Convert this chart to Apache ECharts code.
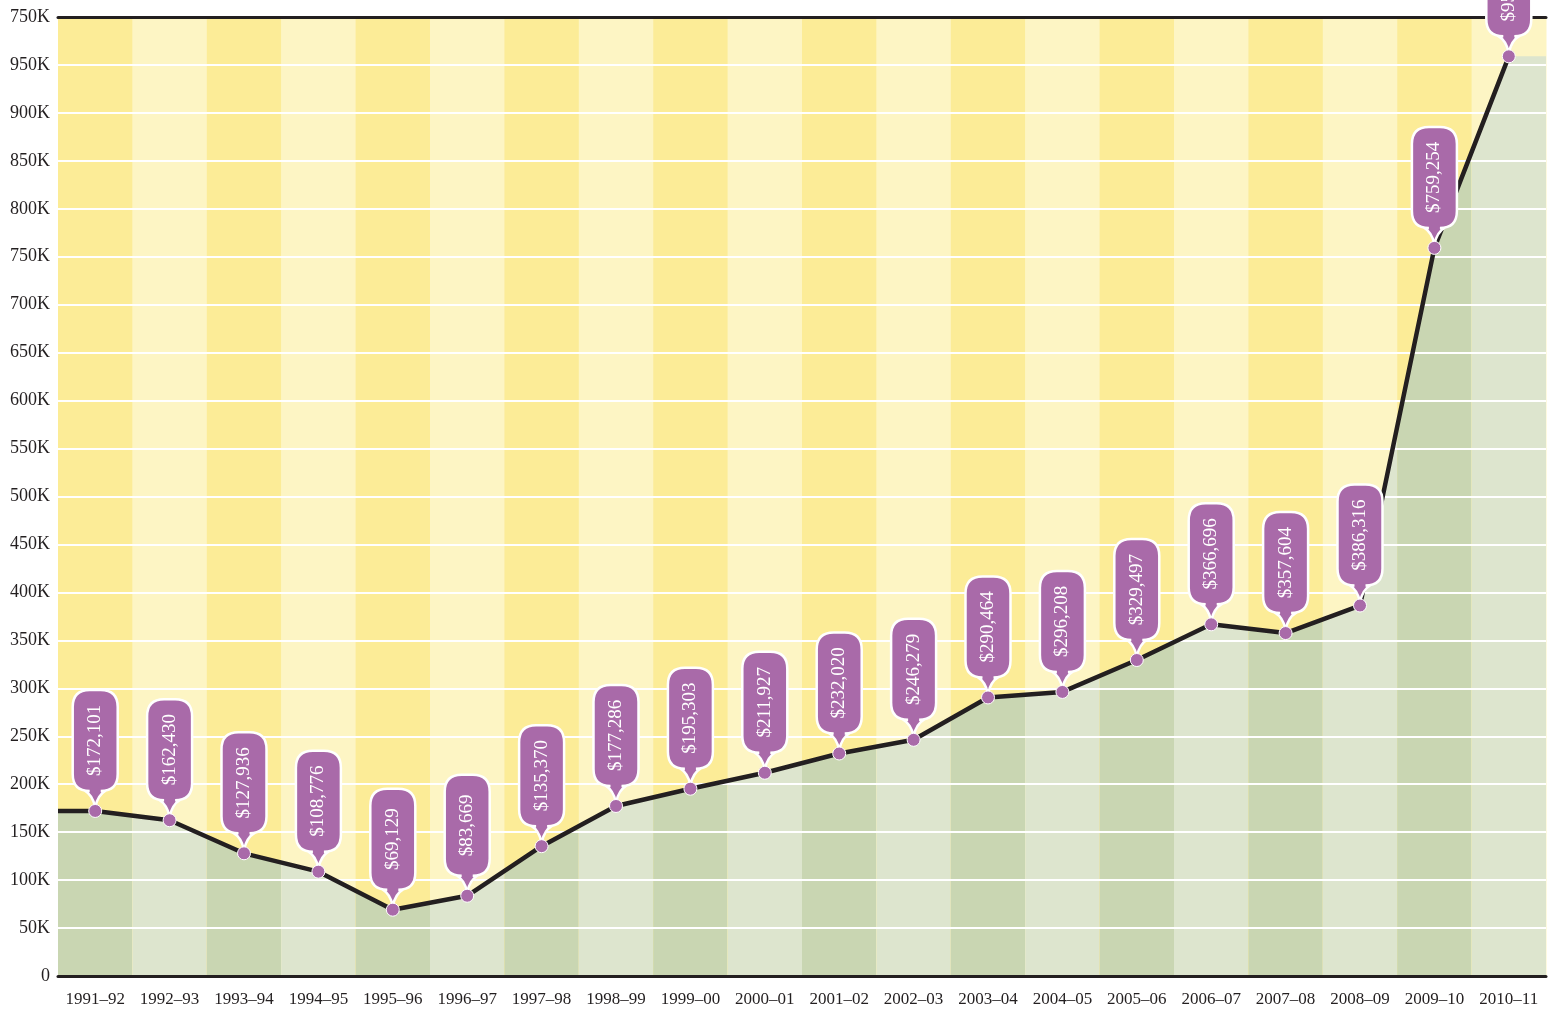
<!DOCTYPE html>
<html><head><meta charset="utf-8">
<script src="https://cdn.jsdelivr.net/npm/echarts@6/dist/echarts.min.js"></script>
<style>html,body{margin:0;padding:0;background:#fff}#c{width:1554px;height:1013px}</style>
</head><body><div id="c"></div>
<script>
const years = ['1991–92','1992–93','1993–94','1994–95','1995–96','1996–97','1997–98','1998–99','1999–00','2000–01','2001–02','2002–03','2003–04','2004–05','2005–06','2006–07','2007–08','2008–09','2009–10','2010–11'];
const values = [172101,162430,127936,108776,69129,83669,135370,177286,195303,211927,232020,246279,290464,296208,329497,366696,357604,386316,759254,959000];
const yTickLabels = ['0','50K','100K','150K','200K','250K','300K','350K','400K','450K','500K','550K','600K','650K','700K','750K','800K','850K','900K','950K','750K'];
const yMax = 1000000, yStep = 50000;

const FONT = '"Liberation Serif", "DejaVu Serif", serif';
const YEL = ['#fcec97', '#fdf5c4'];
const GRN = ['#c9d6b2', '#dde5ce'];
const PURPLE = '#a96aa9';
const INK = '#231f20';

const chart = echarts.init(document.getElementById('c'), null, {renderer: 'canvas'});

function bandItem(params, api) {
  const i = api.value(0);
  const c = api.coord([i, values[i]]);
  const base = api.coord([i, 0]);
  const top = api.coord([i, yMax])[1];
  const bw = api.size([1, 0])[0];
  const L = c[0] - bw / 2, R = c[0] + bw / 2;
  const yPrev = i > 0 ? api.coord([i - 1, values[i - 1]])[1] : c[1];
  const yNext = i < values.length - 1 ? api.coord([i + 1, values[i + 1]])[1] : c[1];
  const yL = (yPrev + c[1]) / 2, yR = (yNext + c[1]) / 2;
  const children = [
    {type: 'rect', shape: {x: L, y: top, width: bw + 0.5, height: base[1] - top}, style: {fill: YEL[i % 2]}},
    {type: 'polygon', shape: {points: [[L, base[1]], [L, yL], [c[0], c[1]], [R, yR], [R, base[1]]]}, style: {fill: GRN[i % 2]}}
  ];
  if (i === 0) {
    children.push({type: 'line', shape: {x1: L, y1: c[1], x2: c[0], y2: c[1]}, style: {stroke: INK, lineWidth: 4.5}});
  }
  return {type: 'group', children};
}

function balloonItem(params, api) {
  const i = api.value(0);
  const p = api.coord([i, values[i]]);
  const cx = p[0], w = 45, r = 17;
  const tip = p[1] - 4;
  const B = p[1] - 20, T = p[1] - 121;
  const Lx = cx - w / 2, Rx = cx + w / 2;
  const d = [
    'M', Lx + r, T, 'L', Rx - r, T, 'Q', Rx, T, Rx, T + r,
    'L', Rx, B - r, 'Q', Rx, B, Rx - r, B,
    'L', cx + 10, B, 'Q', cx + 3, B + 4, cx, tip,
    'Q', cx - 3, B + 4, cx - 10, B,
    'L', Lx + r, B, 'Q', Lx, B, Lx, B - r,
    'L', Lx, T + r, 'Q', Lx, T, Lx + r, T, 'Z'
  ].join(' ');
  return {type: 'group', children: [
    {type: 'path', shape: {pathData: d}, style: {fill: PURPLE, stroke: '#ffffff', lineWidth: 2.5}},
    {type: 'text', x: cx, y: (T + B) / 2, rotation: Math.PI / 2,
      style: {text: '$' + values[i].toLocaleString('en-US'), fill: '#ffffff', font: '19px ' + FONT, align: 'center', verticalAlign: 'middle'}},
    {type: 'circle', shape: {cx: p[0], cy: p[1], r: 6.5}, style: {fill: PURPLE, stroke: '#ffffff', lineWidth: 1}}
  ]};
}

chart.setOption({
  backgroundColor: '#ffffff',
  animation: false,
  grid: {left: 58, right: 8, top: 17, bottom: 37, containLabel: false},
  xAxis: [{
    type: 'category', data: years, boundaryGap: true, position: 'bottom', z: 4,
    axisLine: {show: true, lineStyle: {color: INK, width: 3}},
    axisTick: {show: false},
    axisLabel: {color: '#231f20', fontFamily: FONT, fontSize: 17, margin: 15, interval: 0},
    splitLine: {show: false}
  }, {
    type: 'value', position: 'top', min: 0, max: 1, z: 4,
    axisLine: {show: true, onZero: false, lineStyle: {color: INK, width: 3}},
    axisTick: {show: false}, axisLabel: {show: false}, splitLine: {show: false}
  }],
  yAxis: {
    type: 'value', min: 0, max: yMax, interval: yStep, z: 3,
    axisLine: {show: false}, axisTick: {show: false},
    axisLabel: {color: '#231f20', fontFamily: FONT, fontSize: 18, margin: 8,
      formatter: v => yTickLabels[Math.round(v / yStep)]},
    splitLine: {show: true, lineStyle: {color: '#ffffff', width: 2}}
  },
  series: [
    {type: 'custom', name: 'bands', xAxisIndex: 0, yAxisIndex: 0, z: 1, silent: true,
      data: values.map((v, i) => [i, v]), encode: {x: 0, y: 1}, renderItem: bandItem},
    {type: 'line', name: 'line', xAxisIndex: 0, yAxisIndex: 0, z: 5, silent: true,
      data: values, symbol: 'none', lineStyle: {color: INK, width: 4.5}},
    {type: 'custom', name: 'balloons', xAxisIndex: 0, yAxisIndex: 0, z: 6, silent: true, clip: false,
      data: values.map((v, i) => [i, v]), encode: {x: 0, y: 1}, renderItem: balloonItem}
  ]
});
</script>
</body></html>
